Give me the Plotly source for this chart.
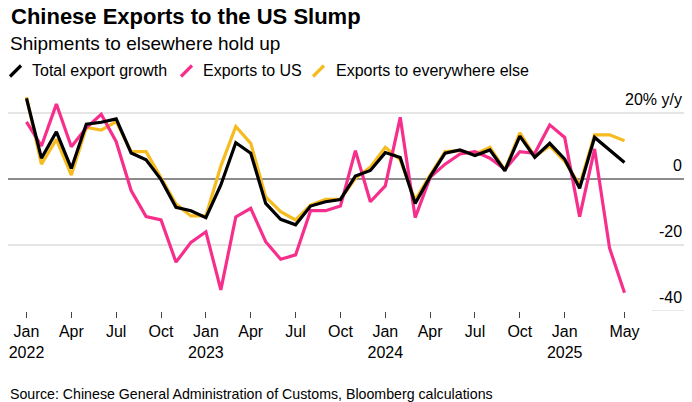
import plotly.graph_objects as go

# ---- data ----
months = [f"{m} {y}" for y in (2022, 2023, 2024) for m in
          ["Jan","Feb","Mar","Apr","May","Jun","Jul","Aug","Sep","Oct","Nov","Dec"]] + \
         [f"{m} 2025" for m in ["Jan","Feb","Mar","Apr","May"]]

total_export = [24.4, 6.3, 14.3, 3.2, 16.6, 17.2, 18.2, 7.9, 5.8, -0.2, -8.6, -9.6,
                -11.7, -1.8, 11.0, 7.8, -7.4, -12.2, -13.9, -8.2, -6.9, -6.2, 0.9, 2.6,
                8.0, 6.5, -7.4, 0.7, 7.8, 8.8, 7.1, 8.8, 2.5, 13.0, 6.6, 10.8,
                6.0, -2.8, 12.6, 8.8, 5.0]
exports_us = [17.3, 10.0, 22.7, 9.8, 15.5, 19.6, 11.3, -3.5, -11.4, -12.4, -25.2, -19.2,
              -16.0, -33.6, -11.5, -8.9, -19.0, -24.3, -23.0, -9.6, -9.6, -8.2, 8.6, -6.9,
              -2.1, 18.7, -11.7, 0.5, 4.5, 7.6, 8.3, 6.3, 2.9, 8.3, 7.8, 16.4,
              12.6, -11.4, 9.1, -20.9, -34.5]
exports_else = [24.8, 4.5, 12.0, 1.2, 15.6, 14.8, 17.4, 8.3, 8.3, 0.5, -7.6, -11.2,
                -11.2, 3.9, 15.9, 10.8, -5.4, -9.9, -12.4, -7.9, -6.2, -6.2, 0.2, 3.6,
                9.6, 5.8, -6.4, 1.2, 8.3, 8.6, 7.5, 9.6, 2.7, 14.0, 6.8, 10.0,
                5.3, -1.8, 13.4, 13.4, 11.6]

tick_idx = [0, 3, 6, 9, 12, 15, 18, 21, 24, 27, 30, 33, 36, 40]
tick_text = ["Jan<br>2022", "Apr", "Jul", "Oct", "Jan<br>2023", "Apr", "Jul", "Oct",
             "Jan<br>2024", "Apr", "Jul", "Oct", "Jan<br>2025", "May"]
y_grid = [20, 0, -20, -40]
y_labels = ["20% y/y", "0", "-20", "-40"]

series_names = ["Total export growth", "Exports to US", "Exports to everywhere else"]

# ---- style ----
BLACK = "#000000"
PINK = "#f72f8c"
YELLOW = "#f6bb1e"
FONT = "Liberation Sans, Arial, sans-serif"

W, H = 692, 402
ML, MR, MT, MB = 8, 8, 93, 91
PW, PH = W - ML - MR, H - MT - MB

def px(xp):
    return (xp - ML) / PW

def py(yp):
    return (H - MB - yp) / PH

x = list(range(len(months)))

fig = go.Figure()
for vals, name, col in [(exports_else, series_names[2], YELLOW),
                        (exports_us, series_names[1], PINK),
                        (total_export, series_names[0], BLACK)]:
    fig.add_trace(go.Scatter(x=x, y=vals, name=name, mode="lines",
                             line=dict(color=col, width=3.2),
                             text=months, cliponaxis=False,
                             hovertemplate="%{text}: %{y}%<extra></extra>"))

shapes = []
for g in y_grid:
    if g == -40:
        shapes.append(dict(type="line", xref="paper", yref="y", x0=px(652), x1=1,
                           y0=g, y1=g, line=dict(color="#dcdcdc", width=1.3), layer="below"))
    elif g == 0:
        shapes.append(dict(type="line", xref="paper", yref="y", x0=0, x1=1,
                           y0=g, y1=g, line=dict(color="#666666", width=1.4), layer="below"))
    else:
        shapes.append(dict(type="line", xref="paper", yref="y", x0=0, x1=1,
                           y0=g, y1=g, line=dict(color="#dcdcdc", width=1.3), layer="below"))

annotations = []
for g, lab in zip(y_grid, y_labels):
    annotations.append(dict(xref="paper", yref="y", x=px(684), y=g, text=lab,
                            xanchor="right", yanchor="bottom", yshift=3, showarrow=False,
                            font=dict(family=FONT, size=16, color="#000")))

# title, subtitle, source
annotations.append(dict(xref="paper", yref="paper", x=px(9), y=py(16), text="<b>Chinese Exports to the US Slump</b>",
                        xanchor="left", yanchor="middle", showarrow=False,
                        font=dict(family=FONT, size=22, color="#000")))
annotations.append(dict(xref="paper", yref="paper", x=px(8), y=py(43.5), text="Shipments to elsewhere hold up",
                        xanchor="left", yanchor="middle", showarrow=False,
                        font=dict(family=FONT, size=19, color="#000")))
annotations.append(dict(xref="paper", yref="paper", x=px(8), y=py(394),
                        text="Source: Chinese General Administration of Customs, Bloomberg calculations",
                        xanchor="left", yanchor="middle", showarrow=False,
                        font=dict(family=FONT, size=14.2, color="#000")))

# custom legend
legend_items = [(10, 30, BLACK), (181, 201, PINK), (313, 334, YELLOW)]
for (sx, tx, col), name in zip(legend_items, series_names):
    shapes.append(dict(type="line", xref="paper", yref="paper",
                       x0=px(sx), y0=py(76.5), x1=px(sx + 11), y1=py(65.5),
                       line=dict(color=col, width=3.2)))
    annotations.append(dict(xref="paper", yref="paper", x=px(tx), y=py(71), text=name,
                            xanchor="left", yanchor="middle", showarrow=False,
                            font=dict(family=FONT, size=16, color="#000")))

fig.update_layout(
    width=W, height=H,
    margin=dict(l=ML, r=MR, t=MT, b=MB, pad=0),
    paper_bgcolor="white", plot_bgcolor="white",
    showlegend=False,
    shapes=shapes, annotations=annotations,
    xaxis=dict(range=[-1.237, -1.237 + PW / 14.95], tickvals=tick_idx, ticktext=tick_text,
               ticks="outside", ticklen=6, tickwidth=1.3, tickcolor="#444",
               showgrid=False, zeroline=False, showline=False,
               tickfont=dict(family=FONT, size=16, color="#000"), fixedrange=True),
    yaxis=dict(range=[-40, -40 + PH / 3.3], showticklabels=False, showgrid=False,
               zeroline=False, showline=False, ticks="", fixedrange=True),
)

fig.write_html("out.html", config={"displayModeBar": False},
               post_script="document.body.style.margin='0px';document.body.style.overflow='hidden';")
